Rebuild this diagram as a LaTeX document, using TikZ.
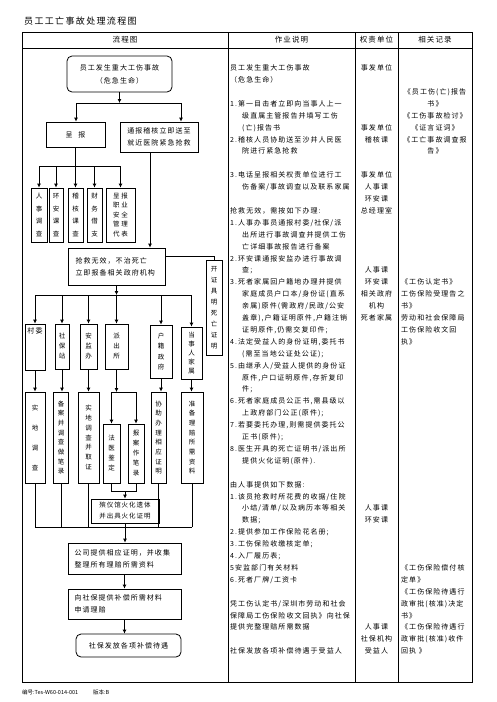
\documentclass[tikz,border=0pt]{standalone}
\usepackage{fontspec}
\newfontfamily\cjk[LetterSpace=15]{Noto Sans CJK SC}
\newfontfamily\cjkplain{Noto Sans CJK SC}
\usetikzlibrary{arrows.meta}

\newcommand\contline{\hspace*{12pt}}

\tikzset{
  tab/.style={line width=0.8pt},
  ln/.style={line width=0.8pt},
  arr/.style={line width=0.8pt, -{Latex[length=4pt,width=4pt]}},
  box/.style={draw, line width=0.8pt, inner sep=0pt, align=center,
    font=\cjk\fontsize{7}{12}\selectfont},
  sz/.style 2 args={minimum width=#1pt, minimum height=#2pt},
  vt/.style={font=\cjk\fontsize{6.5}{#1}\selectfont},
  txt/.style={inner sep=0pt, font=\cjk\fontsize{7}{11.9}\selectfont},
}

\begin{document}
\begin{tikzpicture}[x=1pt, y=-1pt]
\useasboundingbox (0,0) rectangle (496,702);
% title, table and footer
\node[txt, anchor=west, font=\cjk\fontsize{9}{9}\selectfont] (title) at (24,21) {员工工亡事故处理流程图};
\draw[tab] (22,32) rectangle (472,682); % outer frame
\draw[tab] (22,48) -- (472,48); % header line
\foreach \x in {228,355,398}
\draw[tab] (\x,32) -- (\x,682);
\node[txt, font=\cjk\fontsize{7.5}{7.5}\selectfont] (h1) at (125,40) {流程图};
\node[txt, font=\cjk\fontsize{7.5}{7.5}\selectfont] (h2) at (291.5,40) {作业说明};
\node[txt, font=\cjk\fontsize{7.5}{7.5}\selectfont] (h3) at (376.5,40) {权责单位};
\node[txt, font=\cjk\fontsize{7.5}{7.5}\selectfont] (h4) at (435,40) {相关记录};
\node[txt, anchor=west, font=\cjkplain\fontsize{5.5}{5.5}\selectfont] (code) at (22,692) {编号:Tes-W60-014-001};
\node[txt, anchor=west, font=\cjkplain\fontsize{5.5}{5.5}\selectfont] (ver) at (93,692) {版本:B};

% flow chart boxes
\node[box, rounded corners=5pt, sz={105}{36}, font=\cjk\fontsize{7}{13}\selectfont] (acc) at (119.5,74) {员工发生重大工伤事故\\（危急生命）};
\node[box, sz={59}{25}] (rpt) at (75.5,134.5) {呈\hspace{6pt}报};
\node[box, sz={78}{30}] (rescue) at (159,137) {通报稽核立即送至\\就近医院紧急抢救};
\node[box, vt=12.5, sz={16}{54}] (hr) at (39,215) {人\\事\\调\\查};
\node[box, vt=12.5, sz={14}{54}] (env) at (56,215) {环\\安\\课\\查};
\node[box, vt=12.5, sz={15}{54}] (audit) at (75.5,215) {稽\\核\\课\\查};
\node[box, vt=12.5, sz={15}{54}] (fin) at (94.5,215) {财\\务\\借\\支};
\node[box, vt=9.5, sz={29}{54}] (rep) at (120.5,215) {呈\hspace{2pt}报\\职\hspace{2pt}业\\安\hspace{2pt}全\\管\hspace{2pt}理\\代\hspace{2pt}表};
\node[box, align=left, text width=82pt, sz={97}{37}] (fail) at (116.5,266.5) {抢救无效，不治死亡\\立即报备相关政府机构};
\node[box, vt=11, sz={16}{95}] (cert) at (214,307.5) {开\\证\\具\\明\\死\\亡\\证\\明};
\node[box, sz={20}{46}] (cun) at (35,347) {};
\node[txt, anchor=north] (cuntxt) at ([yshift=-4pt]cun.north) {村委};
\node[box, vt=10, sz={14}{45}] (sbz) at (62,346.5) {社\\保\\站};
\node[box, vt=10, sz={17}{45}] (ajb) at (88.5,346.5) {安\\监\\办};
\node[box, vt=10, sz={23}{45}] (pcs) at (116.5,346.5) {派\\出\\所};
\node[box, vt=10.5, sz={22}{53}] (hj) at (161,351.5) {户\\籍\\政\\府};
\node[box, vt=9, sz={21}{52}] (fam) at (191.5,353) {当\\事\\人\\家\\属};
\node[box, vt=20, sz={20}{91}] (sddc) at (35,437.5) {实\\地\\调\\查};
\node[box, vt=9.7, sz={15}{91}] (baxz) at (61,437.5) {备\\案\\并\\调\\查\\做\\笔\\录};
\node[box, vt=9.7, sz={21}{91}] (sdqz) at (88.5,437.5) {实\\地\\调\\查\\并\\取\\证};
\node[box, vt=10, sz={17}{59}] (fy) at (111.5,453.5) {法\\医\\鉴\\定};
\node[box, vt=10, sz={16}{59}] (bazl) at (136,453.5) {报\\案\\作\\笔\\录};
\node[box, vt=9.7, sz={15}{91}] (xz) at (158.5,437.5) {协\\助\\办\\理\\相\\应\\证\\明};
\node[box, vt=9.7, sz={22}{91}] (zb) at (192,437.5) {准\\备\\理\\赔\\所\\需\\资\\料};
\node[box, sz={68}{24}, font=\cjk\fontsize{6.5}{11}\selectfont] (hh) at (125,511) {殡仪馆火化遗体\\并出具火化证明};
\node[box, align=left, text width=100pt, sz={113}{31}] (gs) at (124.5,558.5) {公司提供相应证明，并收集\\整理所有理赔所需资料};
\node[box, align=left, text width=100pt, sz={113}{30}] (sb) at (124.5,604) {向社保提供补偿所需材料\\申请理赔};
\node[box, rounded corners=5pt, sz={105}{23}] (ff) at (128.5,645.5) {社保发放各项补偿待遇};

% connectors
\coordinate (b1) at (76,103);
\coordinate (b2) at (181,103);
\draw[arr] (acc.south) -- (acc.south |- b1);
\draw[ln] (b1) -- (b2); % first branch
\draw[arr] (b1) -- (b1 |- rpt.north);
\draw[arr] (b2) -- (b2 |- rescue.north);
\coordinate (b3) at (39,166);
\coordinate (b4) at (120.5,166);
\draw[ln] (rpt.south) -- (rpt.south |- b3);
\draw[ln] (b3) -- (b4);
\foreach \n in {hr,env,audit,fin,rep}
\draw[arr] (\n.north |- b3) -- (\n.north);
\coordinate (b5) at (150,152);
\draw[arr] (b5) -- (b5 |- fail.north);
\draw[ln] ([yshift=10pt]fail.east) -| (cert.north);
\coordinate (b6) at (35,295);
\coordinate (b7) at (191.5,295);
\draw[arr] (fail.south) -- (fail.south |- b6);
\draw[ln] (b6) -- (b7); % second branch
\foreach \n in {cun,sbz,ajb,pcs,hj,fam}
\draw[arr] (\n.north |- b6) -- (\n.north);
\draw[arr] (cun.south) -- (sddc.north);
\draw[arr] (sbz.south) -- (sbz.south |- baxz.north);
\draw[arr] (ajb.south) -- (ajb.south |- sdqz.north);
\draw[arr] (hj.south) -- (hj.south |- xz.north);
\draw[arr] (fam.south) -- (fam.south |- zb.north);
\coordinate (b8) at (111.5,392);
\coordinate (b9) at (136,392);
\draw[arr] (pcs.south) -- (pcs.south |- b8);
\draw[ln] (b8) -- (b9);
\draw[arr] (b8) -- (fy.north);
\draw[arr] (b9) -- (bazl.north);
\coordinate (b10) at (111.5,491);
\coordinate (b11) at (136,491);
\draw[ln] (fy.south) -- (b10) -- (b11) -- (bazl.south);
\draw[arr] (hh.north |- b10) -- (hh.north);
\coordinate (b12) at (35,527);
\coordinate (b13) at (192,527);
\draw[ln] (b12) -- (b13); % collecting line
\foreach \n in {sddc,baxz,sdqz,xz,zb}
\draw[ln] (\n.south) -- (\n.south |- b12);
\draw[arr] (hh.south) -- (hh.south |- gs.north);
\draw[arr] (gs.south) -- (gs.south |- sb.north);
\draw[arr] (sb.south) -- (sb.south |- ff.north);

% work description
\node[txt, anchor=north west, align=left] (desc) at (230,64.5) {员工发生重大工伤事故\\
（危急生命）\\[11.9pt]
1.第一目击者立即向当事人上一\\
\contline 级直属主管报告并填写工伤\\
\contline (亡)报告书\\
2.稽核人员协助送至沙井人民医\\
\contline 院进行紧急抢救\\[11.9pt]
3.电话呈报相关权责单位进行工\\
\contline 伤备案/事故调查以及联系家属\\[11.9pt]
抢救无效，需按如下办理:\\
1.人事办事员通报村委/社保/派\\
\contline 出所进行事故调查并提供工伤\\
\contline 亡详细事故报告进行备案\\
2.环安课通报安监办进行事故调\\
\contline 查;\\
3.死者家属回户籍地办理并提供\\
\contline 家庭成员户口本/身份证(直系\\
\contline 亲属)原件(需政府/民政/公安\\
\contline 盖章),户籍证明原件,户籍注销\\
\contline 证明原件,仍需交复印件;\\
4.法定受益人的身份证明,委托书\\
\contline (需至当地公证处公证);\\
5.由继承人/受益人提供的身份证\\
\contline 原件,户口证明原件,存折复印\\
\contline 件;\\
6.死者家庭成员公正书,需县级以\\
\contline 上政府部门公正(原件);\\
7.若要委托办理,则需提供委托公\\
\contline 正书(原件);\\
8.医生开具的死亡证明书/派出所\\
\contline 提供火化证明(原件).\\[11.9pt]
由人事提供如下数据:\\
1.该员抢救时所花费的收据/住院\\
\contline 小结/清单/以及病历本等相关\\
\contline 数据;\\
2.提供参加工作保险花名册;\\
3.工伤保险收缴核定单;\\
4.入厂履历表;\\
5安监部门有关材料\\
6.死者厂牌/工资卡\\[11.9pt]
凭工伤认定书/深圳市劳动和社会\\
保障局工伤保险收文回执》向社保\\
提供完整理赔所需数据\\[11.9pt]
社保发放各项补偿待遇于受益人};

% responsible units
\node[txt, anchor=north, align=center] (u1) at (376.5,64.5) {事发单位};
\node[txt, anchor=north, align=center] (u2) at (376.5,124) {事发单位\\稽核课};
\node[txt, anchor=north, align=center] (u3) at (376.5,171.6) {事发单位\\人事课\\环安课\\总经理室};
\node[txt, anchor=north, align=center] (u4) at (376.5,266.8) {人事课\\环安课\\相关政府\\机构\\死者家属};
\node[txt, anchor=north, align=center] (u5) at (376.5,504.8) {人事课\\环安课};
\node[txt, anchor=north, align=center] (u6) at (376.5,623.8) {人事课\\社保机构\\受益人};

% records
\node[txt, anchor=north, align=center] (r1) at (435,88.3) {《员工伤(亡)报告\\书》\\《工伤事故检讨》\\《证言证词》\\《工亡事故调查报\\告》};
\node[txt, anchor=north west, align=left] (r2) at (401,278.7) {《工伤认定书》\\工伤保险受理告之\\书》\\劳动和社会保障局\\工伤保险收文回\\执》};
\node[txt, anchor=north west, align=left] (r3) at (401,564.3) {《工伤保险偿付核\\定单》\\《工伤保险待遇行\\政审批(核准)决定\\书》\\《工伤保险待遇行\\政审批(核准)收件\\回执 》};
\end{tikzpicture}
\end{document}
